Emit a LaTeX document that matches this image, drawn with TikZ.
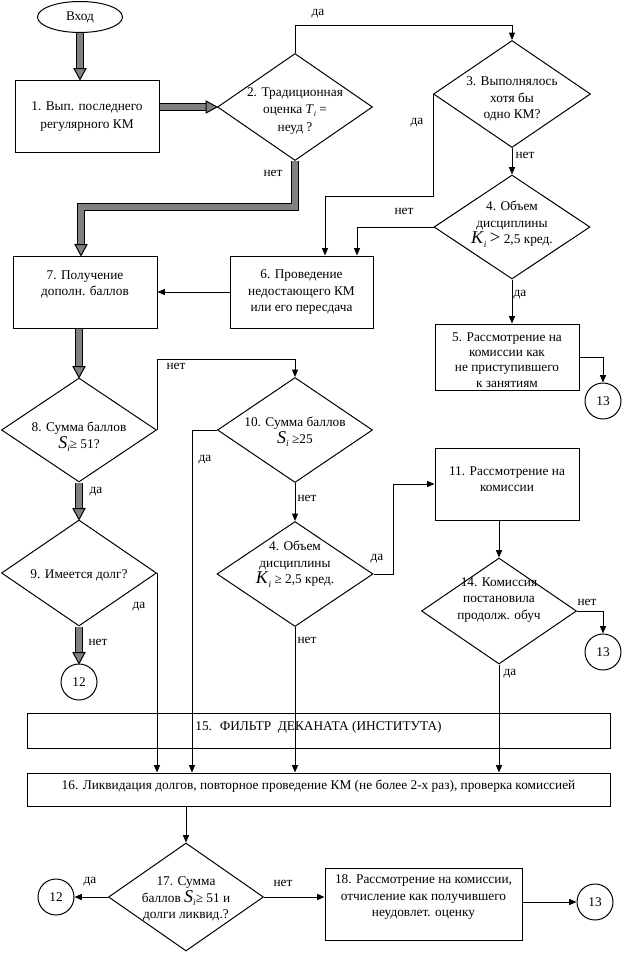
\documentclass[tikz,border=0pt]{standalone}
\usepackage{fontspec}
\setmainfont{Liberation Serif}
\usetikzlibrary{shapes.geometric,arrows.meta,calc}
\definecolor{arrgray}{RGB}{128,128,128}
\newcommand\bigv[1]{{\fontsize{13.5}{13.5}\selectfont\textit{#1}}\raisebox{-2.5pt}{\fontsize{7}{7}\selectfont\textit{i}}}
\newcommand\gheadD[1]{\filldraw[fill=arrgray,draw=black,line width=0.75pt] #1 -- ++(-6,-11) -- ++(12,0) -- cycle;}
\newcommand\gheadR[1]{\filldraw[fill=arrgray,draw=black,line width=0.75pt] #1 -- ++(-11,-6) -- ++(0,12) -- cycle;}
\begin{document}
\begin{tikzpicture}[x=0.75pt,y=-0.75pt,
  every node/.style={font=\fontsize{10}{12.5}\selectfont},
  lw/.style={line width=0.75pt},
  box/.style={draw, lw, rectangle, inner sep=0pt},
  dia/.style={draw, lw, diamond, inner sep=0pt},
  circ/.style={draw, lw, circle, inner sep=0pt, minimum size=27pt},
  sz/.style 2 args={minimum width=#1*0.75pt, minimum height=#2*0.75pt},
  txt/.style={align=center, inner sep=0pt},
  lbl/.style={inner sep=0pt},
  arr/.style={lw, -{Triangle[width=4.5pt,length=5.5pt]}},
  fat/.style={draw=black, line width=0.75pt, double=arrgray, double distance=3.9pt, shorten >=7.5pt},
]
\useasboundingbox (0,0) rectangle (628,954);

% shapes
\node[draw, lw, ellipse, sz={85}{31}, inner sep=0pt] (ent) at (80,17) {Вход};
\node[box, sz={144}{72}] (b1) at (87,116) {};
\node[dia, sz={155}{107}] (d2) at (295,107) {};
\node[dia, sz={157}{107}] (d3) at (512,94) {};
\node[dia, sz={156}{104}] (d4a) at (512,227) {};
\node[box, sz={144}{66}] (b5) at (507,357) {};
\node[circ] (c13a) at (603,401) {13};
\node[box, sz={143}{72}] (b6) at (301.5,292) {};
\node[box, sz={144}{72}] (b7) at (85,292) {};
\node[dia, sz={155}{104}] (d8) at (79,430) {};
\node[dia, sz={155}{105}] (d10) at (295,430) {};
\node[dia, sz={155}{106}] (d9) at (79,573) {};
\node[circ] (c12a) at (79,682) {12};
\node[dia, sz={156}{105}] (d4b) at (295,574) {};
\node[box, sz={144}{72}] (b11) at (507,484) {};
\node[dia, sz={155}{106}] (d14) at (499,611) {};
\node[circ] (c13b) at (603,652) {13};
\node[box, sz={583}{35}] (b15) at (318.5,730.5) {};
\node[box, sz={583}{33}] (b16) at (318.5,789.5) {};
\node[dia, sz={155}{108}] (d17) at (186,897) {};
\node[circ] (c12b) at (56,897) {12};
\node[box, sz={197}{72}] (b18) at (423.5,904) {};
\node[circ] (c13c) at (595,902) {13};

% texts
\node[txt, font=\fontsize{10}{13.5}\selectfont] (t1) at (87,117) {1. Вып. последнего\\регулярного КМ};
\node[txt, font=\fontsize{10}{13}\selectfont] (t2) at (295,111) {2. Традиционная\\оценка \textit{T}\raisebox{-2pt}{\fontsize{6}{6}\selectfont\textit{i}} =\\неуд ?};
\node[txt] (t3) at (512,99) {3. Выполнялось\\хотя бы\\одно КМ?};
\node[txt] (t4a) at (512,224) {4. Объем\\дисциплины\\\bigv{K} {\fontsize{14}{14}\selectfont>} 2,5 кред.};
\node[txt, font=\fontsize{10}{11.5}\selectfont] (t5) at (507,360) {5. Рассмотрение на\\комиссии как\\не приступившего\\к занятиям};
\node[txt, font=\fontsize{10}{12.5}\selectfont] (t6) at (301.5,292) {6. Проведение\\недостающего КМ\\или его пересдача};
\node[txt] (t7) at (85,284.5) {7. Получение\\дополн. баллов};
\node[txt] (t8) at (79,437) {8. Сумма баллов\\\bigv{S}≥ 51?};
\node[txt] (t9) at (79,575) {9. Имеется долг?};
\node[txt] (t10) at (295,432) {10. Сумма баллов\\\bigv{S} ≥25};
\node[txt] (t4b) at (295,564) {4. Объем\\дисциплины\\\bigv{K} ≥ 2,5 кред.};
\node[txt] (t11) at (507,479) {11. Рассмотрение на\\комиссии};
\node[txt] (t14) at (499,600) {14. Комиссия\\постановила\\продолж. обуч};
\node[txt] (t15) at (318.5,727) {15.~ ФИЛЬТР~ ДЕКАНАТА (ИНСТИТУТА)};
\node[txt] (t16) at (318.5,786) {16. Ликвидация долгов, повторное проведение КМ (не более 2-х раз), проверка комиссией};
\node[txt] (t17) at (186,899) {17. Сумма\\баллов \bigv{S}≥ 51 и\\долги ликвид.?};
\node[txt] (t18) at (423.5,897) {18. Рассмотрение на комиссии,\\отчисление как получившего\\неудовлет. оценку};

% labels
\node[lbl] (l1) at (318,14) {да};
\node[lbl] (l2) at (417,123) {да};
\node[lbl] (l3) at (525,155) {нет};
\node[lbl] (l4) at (404,211) {нет};
\node[lbl] (l5) at (520,295) {да};
\node[lbl] (l6) at (273,173) {нет};
\node[lbl] (l7) at (176,366) {нет};
\node[lbl] (l8) at (96,492) {да};
\node[lbl] (l9) at (205,460) {да};
\node[lbl] (l10) at (307,498) {нет};
\node[lbl] (l11) at (377,559) {да};
\node[lbl] (l12) at (307,640) {нет};
\node[lbl] (l13) at (139,607) {да};
\node[lbl] (l14) at (98,642) {нет};
\node[lbl] (l15) at (587,602) {нет};
\node[lbl] (l16) at (510,674) {да};
\node[lbl] (l17) at (90,882) {да};
\node[lbl] (l18) at (283,883) {нет};

% thick gray connectors
\coordinate (p1) at (ent.south |- b1.north);
\draw[fat] (ent.south) -- (p1); \gheadD{(p1)}
\coordinate (p2) at (b1.east |- d2.west);
\draw[fat] (p2) -- (d2.west); \gheadR{(d2.west)}
\coordinate (p3) at ($(b7.north)+(-4,0)$);
\draw[fat] (d2.south) -- ++(0,46) -| (p3); \gheadD{(p3)}
\coordinate (p4) at (d8.north |- b7.south);
\draw[fat] (p4) -- (d8.north); \gheadD{(d8.north)}
\draw[fat] (d8.south) -- (d9.north); \gheadD{(d9.north)}
\draw[fat] (d9.south) -- (c12a.north); \gheadD{(c12a.north)}

% thin connectors
\draw[arr] (d2.north) -- ++(0,-28) -| (d3.north);
\coordinate (q6a) at ($(b6.north)+(23.5,0)$);
\coordinate (q6b) at ($(b6.north)+(55.5,0)$);
\draw[arr] (d3.west) -- ++(0,102) -| (q6a);
\draw[arr] (d3.south) -- (d4a.north);
\draw[arr] (d4a.west) -| (q6b);
\draw[arr] (d4a.south) -- (d4a.south |- b5.north);
\draw[arr] (b5.east) -| (c13a.north);
\draw[arr] (b6.west) -- (b7.east);
\draw[arr] (d8.east) -- ++(0,-71) -| (d10.north);
\draw[arr] (d9.east) -- (d9.east |- b16.north);
\coordinate (k10) at ($(d10.west)+(-25,0)$);
\draw[arr] (d10.west) -- (k10) -- (k10 |- b16.north);
\draw[arr] (d10.south) -- (d4b.north);
\draw[arr] (d4b.south) -- (d4b.south |- b16.north);
\draw[arr] (d4b.east) -- ++(20,0) |- (b11.west);
\draw[arr] (d14.north |- b11.south) -- (d14.north);
\draw[arr] (d14.east) -| (c13b.north);
\draw[arr] (d14.south) -- (d14.south |- b16.north);
\draw[arr] (d17.north |- b16.south) -- (d17.north);
\draw[arr] (d17.west) -- (c12b.east);
\draw[arr] (d17.east) -- (d17.east -| b18.west);
\draw[arr] (b18.east |- c13c.west) -- (c13c.west);
\end{tikzpicture}
\end{document}
